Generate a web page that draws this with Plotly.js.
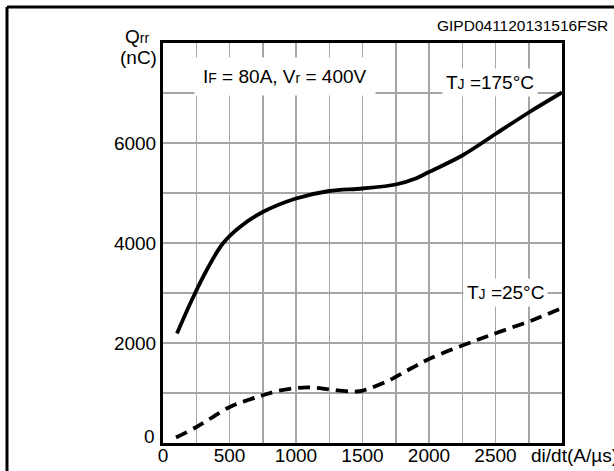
<!DOCTYPE html>
<html>
<head>
<meta charset="utf-8">
<script src="https://cdn.plot.ly/plotly-3.0.1.min.js"></script>
<style>html,body{margin:0;padding:0;background:#fff;}#chart{width:614px;height:471px;}</style>
</head>
<body>
<div id="chart"></div>
<script>
// di/dt (A/us) and Qrr (nC)
const x175 = [105, 215, 327, 450, 578, 750, 1000, 1250, 1500, 1750, 1900, 2000, 2250, 2500, 2750, 3000];
const y175 = [2190, 2850, 3450, 3990, 4320, 4620, 4890, 5040, 5090, 5170, 5290, 5420, 5750, 6180, 6610, 7010];
const x25 = [98, 252, 502, 652, 752, 852, 1002, 1127, 1252, 1402, 1477, 1552, 1702, 1850, 2000, 2200, 2377, 2527, 2777, 3000];
const y25 = [110, 320, 720, 870, 955, 1035, 1100, 1110, 1070, 1030, 1035, 1090, 1255, 1470, 1680, 1900, 2075, 2220, 2455, 2700];
const xTickVals = [0, 250, 500, 750, 1000, 1250, 1500, 1750, 2000, 2250, 2500, 2750, 3000];
const xTickText = ['0', '', '500', '', '1000', '', '1500', '', '2000', '', '2500', '', ''];
const yTickVals = [0, 1000, 2000, 3000, 4000, 5000, 6000, 7000, 8000];
const yTickText = ['', '', '2000', '', '4000', '', '6000', '', ''];

const FONT = 'Liberation Sans, Arial, Helvetica, sans-serif';
const sm = s => '<span style="font-size:14px">' + s + '</span>';

const traces = [
  {x: x175, y: y175, mode: 'lines', line: {color: '#000', width: 3.8, shape: 'spline', smoothing: 1}, hoverinfo: 'skip'},
  {x: x25, y: y25, mode: 'lines', line: {color: '#000', width: 3.8, dash: '12px,7px', shape: 'spline', smoothing: 1}, hoverinfo: 'skip'}
];

const layout = {
  width: 614, height: 471,
  margin: {l: 163, r: 52, t: 43, b: 28, pad: 0},
  paper_bgcolor: '#fff', plot_bgcolor: '#fff',
  showlegend: false,
  font: {family: FONT, size: 19, color: '#000'},
  xaxis: {
    range: [0, 3000], tickmode: 'array', tickvals: xTickVals, ticktext: xTickText,
    showgrid: true, gridcolor: '#a6a6a6', gridwidth: 1.5,
    showline: true, linecolor: '#000', linewidth: 3, mirror: true,
    ticks: '', zeroline: false, fixedrange: true, ticklabelstandoff: -7,
    tickfont: {family: FONT, size: 19, color: '#000'}
  },
  yaxis: {
    range: [0, 8000], tickmode: 'array', tickvals: yTickVals, ticktext: yTickText,
    showgrid: true, gridcolor: '#a6a6a6', gridwidth: 1.5,
    showline: true, linecolor: '#000', linewidth: 3, mirror: true,
    ticks: '', zeroline: false, fixedrange: true,
    tickfont: {family: FONT, size: 19, color: '#000'}
  },
  shapes: [
    {type: 'line', xref: 'paper', yref: 'paper', x0: -0.391, x1: -0.391, y0: 1.09, y1: -0.08, line: {color: '#000', width: 3}},
    {type: 'line', xref: 'paper', yref: 'paper', x0: -0.391, x1: 1.14, y0: 1.09, y1: 1.09, line: {color: '#000', width: 3}}
  ],
  annotations: [
    {xref: 'x', yref: 'y', x: 235, y: 7330, xanchor: 'left', yanchor: 'middle', showarrow: false,
     text: 'I' + sm('F') + ' = 80A, V' + sm('r') + ' = 400V', bgcolor: '#fff', borderpad: 8, font: {size: 19}},
    {xref: 'x', yref: 'y', x: 2460, y: 7220, xanchor: 'center', yanchor: 'middle', showarrow: false,
     text: 'T' + sm('J') + ' =175°C', bgcolor: '#fff', borderpad: 3, font: {size: 19}},
    {xref: 'x', yref: 'y', x: 2575, y: 3010, xanchor: 'center', yanchor: 'middle', showarrow: false,
     text: 'T' + sm('J') + ' =25°C', bgcolor: '#fff', borderpad: 3, font: {size: 19}},
    {xref: 'paper', yref: 'paper', x: 1.12, y: 1.045, xanchor: 'right', yanchor: 'middle', showarrow: false,
     text: 'GIPD041120131516FSR', font: {size: 15.5}},
    {xref: 'paper', yref: 'paper', x: -0.03, y: 1.016, xanchor: 'right', yanchor: 'middle', showarrow: false,
     text: 'Q' + sm('rr'), font: {size: 19}},
    {xref: 'paper', yref: 'paper', x: -0.01, y: 0.963, xanchor: 'right', yanchor: 'middle', showarrow: false,
     text: '(nC)', font: {size: 19}},
    {xref: 'paper', yref: 'paper', x: -0.015, y: 0.017, xanchor: 'right', yanchor: 'middle', showarrow: false,
     text: '0', font: {size: 19}},
    {xref: 'paper', yref: 'paper', x: 0.918, y: -0.03, xanchor: 'left', yanchor: 'middle', showarrow: false,
     text: 'di/dt(A/µs)', font: {size: 19}}
  ]
};

Plotly.newPlot('chart', traces, layout, {staticPlot: true, displayModeBar: false});
</script>
</body>
</html>
